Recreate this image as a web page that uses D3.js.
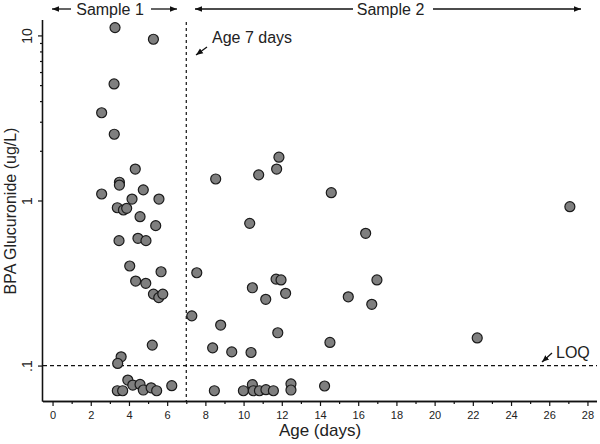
<!DOCTYPE html>
<html><head><meta charset="utf-8">
<script src="https://cdn.jsdelivr.net/npm/d3@7"></script>
<style>body{margin:0;background:#fff}svg{display:block}text{font-family:"Liberation Sans",Arial,sans-serif;fill:#222}</style>
</head><body><svg id="c" width="600" height="444"></svg>
<script>
const sample1Age = [3.27,5.28,3.22,2.57,3.23,4.33,3.50,3.50,4.75,2.57,4.16,5.57,3.39,3.71,3.88,4.58,5.40,3.48,4.47,4.89,4.04,5.68,4.35,4.88,5.28,5.56,5.77,5.22,3.59,3.41,3.94,4.20,4.58,4.75,3.39,3.67,5.16,5.45,6.24];
const sample1Value = [11.15,9.48,5.08,3.40,2.52,1.55,1.29,1.24,1.16,1.095,1.02,1.02,0.904,0.876,0.897,0.798,0.704,0.571,0.590,0.571,0.401,0.370,0.325,0.315,0.271,0.258,0.271,0.133,0.113,0.103,0.0817,0.0762,0.0769,0.0711,0.0704,0.0704,0.0733,0.0704,0.0755];
const sample2Age = [8.54,10.79,11.73,11.85,14.59,10.32,16.39,27.08,7.55,10.46,11.70,11.96,16.98,11.16,12.20,15.48,16.71,7.29,8.80,8.38,9.38,10.39,11.79,14.52,22.23,8.47,9.99,10.46,10.51,10.83,11.17,11.56,12.48,12.48,14.24];
const sample2Value = [1.35,1.43,1.55,1.83,1.115,0.727,0.633,0.917,0.365,0.296,0.334,0.330,0.330,0.252,0.274,0.261,0.235,0.200,0.176,0.128,0.121,0.120,0.158,0.138,0.147,0.0704,0.0704,0.0766,0.0704,0.0704,0.0714,0.0704,0.0775,0.0711,0.0752];
const xMajorTicks = [0,2,4,6,8,10,12,14,16,18,20,22,24,26,28];
const xMinorTicks = [1,3,5,7,9,11,13,15,17,19,21,23,25,27];
const yMajorTicks = [0.1,1,10];
const yMajorLabels = [".1","1","10"];
const yMinorTicks = [2,3,4,5,6,7,8,9];
const loq = 0.1;
const cutoffAge = 7;

const svg = d3.select("#c");
const x = d3.scaleLinear().domain([-0.5,28.5]).range([43,597]);
const y = d3.scaleLog().domain([0.061,12.4]).range([401,20]);

// x axis
const xAxis = svg.append("g").attr("transform","translate(0,401)");
xAxis.call(d3.axisBottom(x).tickValues(xMajorTicks).tickSize(5).tickPadding(5).tickFormat(d3.format("d")));
xAxis.append("g").call(d3.axisBottom(x).tickValues(xMinorTicks).tickSize(3).tickFormat(""));
xAxis.selectAll(".domain").attr("d","M43,0.5H597").attr("stroke","#111").attr("stroke-width",1.3);
xAxis.selectAll(".tick line").attr("stroke","#111").attr("stroke-width",1.2);
xAxis.selectAll(".tick text").attr("font-size",11).attr("fill","#333").attr("font-family","'Liberation Sans',Arial,sans-serif");

// y axis
const yAxis = svg.append("g").attr("transform","translate(43,0)");
yAxis.call(d3.axisLeft(y).tickValues(yMajorTicks).tickSize(5).tickFormat((d,i)=>yMajorLabels[i]));
yAxis.append("g").call(d3.axisLeft(y).tickValues(yMinorTicks).tickSize(3).tickFormat(""));
yAxis.selectAll(".domain").attr("d","M-0.5,20V401.5").attr("stroke","#111").attr("stroke-width",1.3);
yAxis.selectAll(".tick line").attr("stroke","#111").attr("stroke-width",1.2);
yAxis.selectAll(".tick text").attr("font-size",14).attr("fill","#333")
  .attr("font-family","'Liberation Sans',Arial,sans-serif")
  .attr("x",null).attr("dy",null).attr("text-anchor","middle")
  .attr("transform","translate(-11.5,0) rotate(-90)");

// reference lines
svg.append("line").attr("x1",x(cutoffAge)).attr("x2",x(cutoffAge)).attr("y1",22).attr("y2",401)
  .attr("stroke","#111").attr("stroke-width",1.2).attr("stroke-dasharray","3,3");
svg.append("line").attr("x1",43).attr("x2",597).attr("y1",y(loq)).attr("y2",y(loq))
  .attr("stroke","#111").attr("stroke-width",1.2).attr("stroke-dasharray","4,3");

// points
const pts = sample1Age.map((a,i)=>[a,sample1Value[i]]).concat(sample2Age.map((a,i)=>[a,sample2Value[i]]));
svg.append("g").selectAll("circle").data(pts).join("circle")
  .attr("cx",d=>x(d[0])).attr("cy",d=>y(d[1])).attr("r",5)
  .attr("fill","#7f7f7f").attr("stroke","#1a1a1a").attr("stroke-width",1.2);

// axis titles
svg.append("text").attr("x",320).attr("y",436).attr("text-anchor","middle").attr("font-size",17).text("Age (days)");
svg.append("text").attr("transform","translate(16,211) rotate(-90)").attr("text-anchor","middle").attr("font-size",16).text("BPA Glucuronide (ug/L)");

// arrow helper
const defs = svg.append("defs");
defs.append("marker").attr("id","ah").attr("viewBox","0 0 10 10").attr("refX",10).attr("refY",5)
  .attr("markerWidth",7).attr("markerHeight",7).attr("orient","auto-start-reverse").attr("markerUnits","userSpaceOnUse")
  .append("path").attr("d","M0,1L10,5L0,9Z").attr("fill","#111");
function arrow(x1,y1,x2,y2){
  svg.append("line").attr("x1",x1).attr("y1",y1).attr("x2",x2).attr("y2",y2)
    .attr("stroke","#111").attr("stroke-width",1.3).attr("marker-end","url(#ah)");
}
// sample annotations
svg.append("text").attr("x",110).attr("y",15).attr("text-anchor","middle").attr("font-size",16).text("Sample 1");
arrow(71,9,52,9); arrow(151,9,177,9);
svg.append("text").attr("x",390.5).attr("y",15).attr("text-anchor","middle").attr("font-size",16).text("Sample 2");
arrow(353,9,195,9); arrow(433,9,581,9);
svg.append("text").attr("x",212).attr("y",43).attr("font-size",16).text("Age 7 days");
arrow(207,47,196,55);
svg.append("text").attr("x",556).attr("y",358).attr("font-size",16).text("LOQ");
arrow(552,353,542,362);
</script></body></html>
